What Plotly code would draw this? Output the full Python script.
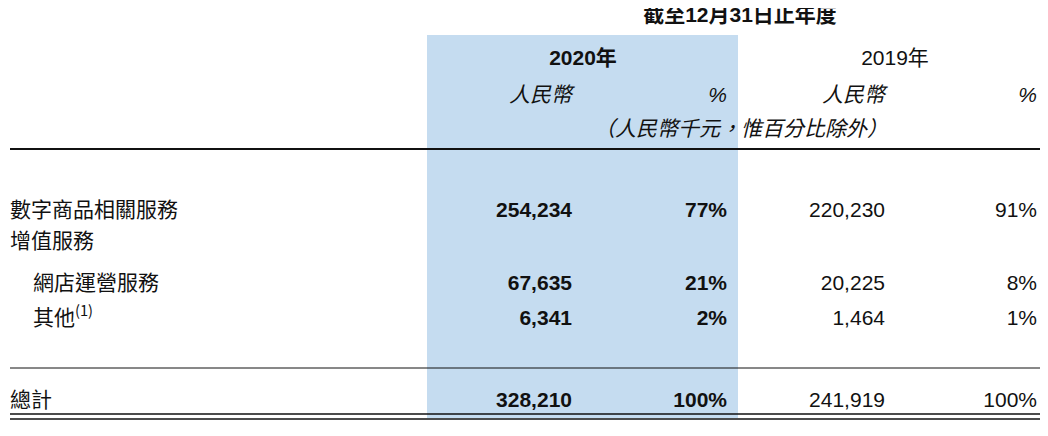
import plotly.graph_objects as go

rows = ["數字商品相關服務", "增值服務", "網店運營服務", "其他<sup>(1)</sup>", "總計"]
indent = [0, 0, 1, 1, 0]
rmb_2020 = ["254,234", "", "67,635", "6,341", "328,210"]
pct_2020 = ["77%", "", "21%", "2%", "100%"]
rmb_2019 = ["220,230", "", "20,225", "1,464", "241,919"]
pct_2019 = ["91%", "", "8%", "1%", "100%"]
row_y = [212, 243, 285, 320, 402]

FONT = "Liberation Sans, Noto Sans CJK TC"
CJK = "Noto Sans CJK TC"
SIZE = 21

fig = go.Figure()

# row labels
fig.add_trace(go.Scatter(
    x=[10 + 23 * i for i in indent], y=row_y, text=rows, mode="text",
    textposition="middle right", textfont=dict(family=CJK, size=SIZE, color="#111")))

cols = [(rmb_2020, 572, True), (pct_2020, 727, True), (rmb_2019, 885, False), (pct_2019, 1037, False)]
for vals, x, bold in cols:
    fig.add_trace(go.Scatter(
        x=[x] * len(vals), y=row_y, mode="text", textposition="middle left",
        text=[f"<b>{v}</b>" if bold and v else v for v in vals],
        textfont=dict(family=FONT, size=SIZE, color="#111")))

# headers
fig.add_trace(go.Scatter(
    x=[583, 895], y=[60, 60], mode="text", textposition="middle center",
    text=["<b>2020年</b>", "2019年"], textfont=dict(family=FONT, size=SIZE, color="#111")))
fig.add_trace(go.Scatter(
    x=[740], y=[17], mode="text", textposition="middle center",
    text=["<b>截至12月31日止年度</b>"], textfont=dict(family=FONT, size=SIZE, color="#111")))
fig.add_trace(go.Scatter(
    x=[572, 727, 885, 1037], y=[97] * 4, mode="text", textposition="middle left",
    text=["<i>人民幣</i>", "<i>%</i>", "<i>人民幣</i>", "<i>%</i>"],
    textfont=dict(family=FONT, size=SIZE, color="#111")))
fig.add_trace(go.Scatter(
    x=[888], y=[131], mode="text", textposition="middle left",
    text=["<i>（人民幣千元，惟百分比除外）</i>"],
    textfont=dict(family=CJK, size=SIZE, color="#111")))

shapes = [
    dict(type="rect", x0=427, x1=738, y0=35, y1=418, fillcolor="#c5dcf0", line_width=0, layer="below"),
    dict(type="line", x0=10, x1=1040, y0=149, y1=149, line=dict(color="#111", width=2)),
    dict(type="line", x0=10, x1=1040, y0=368, y1=368, line=dict(color="#111", width=1)),
    dict(type="line", x0=10, x1=1040, y0=414, y1=414, line=dict(color="#111", width=1.5)),
    dict(type="line", x0=10, x1=1040, y0=419, y1=419, line=dict(color="#111", width=1.5)),
]

# page body adds an 8px offset, so ranges are shifted to compensate
fig.update_layout(
    width=1048, height=436, margin=dict(l=0, r=0, t=0, b=0),
    plot_bgcolor="white", paper_bgcolor="white", showlegend=False, shapes=shapes,
    xaxis=dict(range=[8, 1056], visible=False, fixedrange=True),
    yaxis=dict(range=[444, 8], visible=False, fixedrange=True),
)
fig.write_html("out.html")
